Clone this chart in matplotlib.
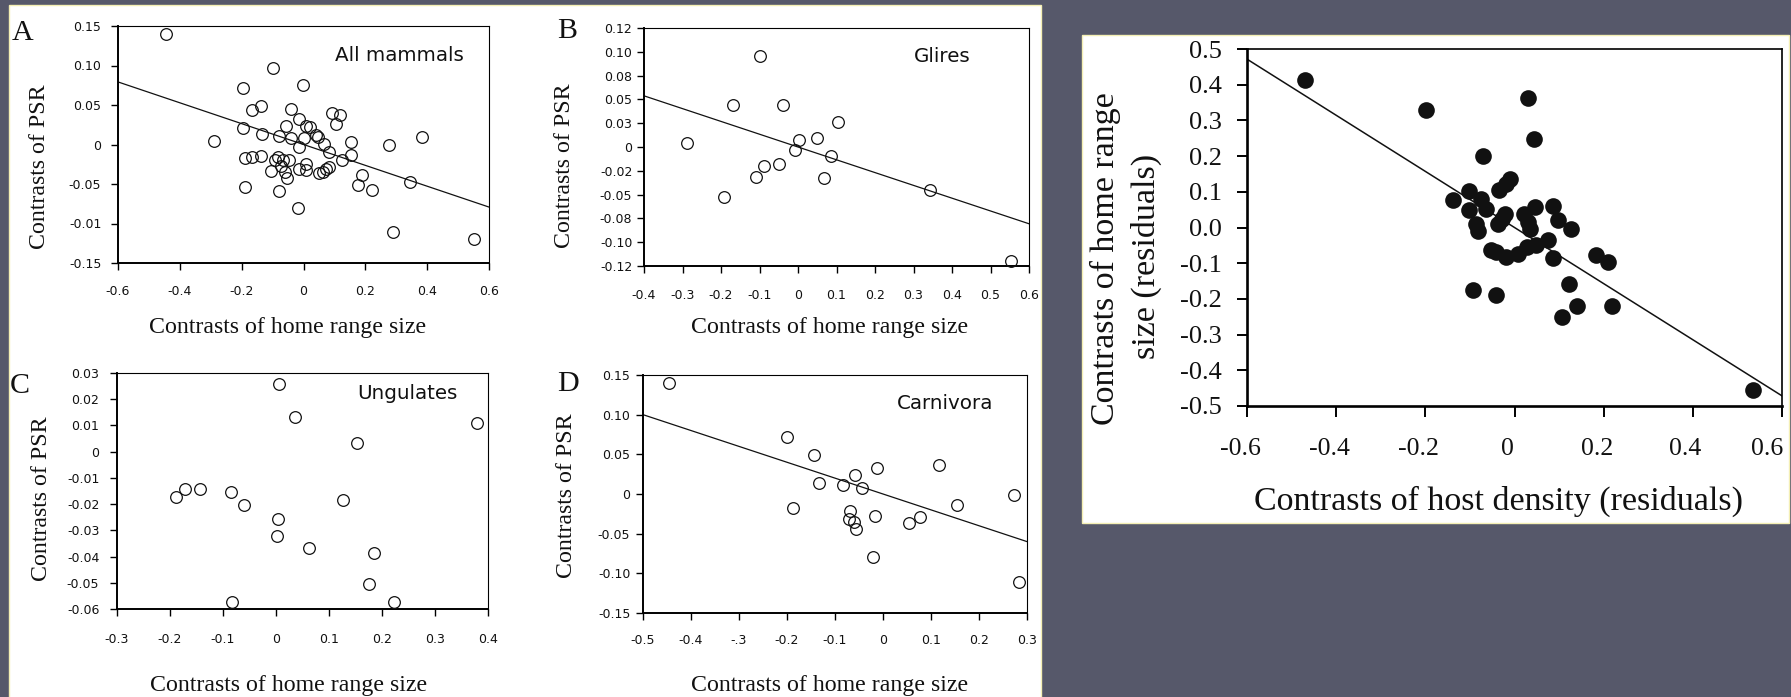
import matplotlib
matplotlib.use("Agg")
import matplotlib.pyplot as plt
from matplotlib.patches import Rectangle
from matplotlib.transforms import ScaledTranslation
import numpy as np

W, H, DPI = 1791, 697, 100
BG = "#56586a"
EDGE = "#f4efb4"
SANS = "DejaVu Sans"
SERIF = "Liberation Serif"

# ---------------- A: all mammals ----------------
a_x = [-0.445, -0.100, -0.002, -0.195, -0.167, -0.137, -0.040, -0.013, -0.057, 0.009,
       0.022, 0.092, 0.117, 0.106, -0.195, -0.288, -0.133, -0.078, -0.040, 0.000,
       0.041, 0.046, 0.065, -0.013, 0.084, 0.155, 0.155, 0.275, 0.383, -0.189,
       -0.165, -0.136, -0.084, -0.092, -0.065, -0.047, -0.072, -0.059, -0.052, -0.106,
       -0.013, 0.008, 0.008, 0.049, 0.063, 0.072, 0.081, 0.126, 0.189, 0.176,
       0.221, 0.343, -0.189, -0.078, -0.018, 0.289, 0.552]
a_y = [0.140, 0.0965, 0.075, 0.072, 0.044, 0.049, 0.045, 0.032, 0.024, 0.024,
       0.022, 0.040, 0.037, 0.026, 0.0215, 0.005, 0.0135, 0.011, 0.008, 0.008,
       0.012, 0.009, 0.001, -0.003, -0.009, 0.003, -0.0135, -0.001, 0.0097, -0.0177,
       -0.016, -0.015, -0.016, -0.020, -0.020, -0.020, -0.027, -0.035, -0.0425, -0.034,
       -0.031, -0.025, -0.032, -0.036, -0.035, -0.031, -0.029, -0.020, -0.038, -0.051,
       -0.057, -0.047, -0.0535, -0.059, -0.080, -0.111, -0.119]
a_fit = (-0.132, 0.0)
a_xticks = [-0.6, -0.4, -0.2, 0.0, 0.2, 0.4, 0.6]
a_xlabels = ["-0.6", "-0.4", "-0.2", "0", "0.2", "0.4", "0.6"]
a_yticks = [0.15, 0.10, 0.05, 0.0, -0.05, -0.10, -0.15]
a_ylabels = ["0.15", "0.10", "0.05", "0", "-0.05", "-0.01", "-0.15"]

# ---------------- B: Glires ----------------
b_x = [-0.100, -0.168, -0.039, 0.104, -0.289, 0.003, 0.049, -0.009, 0.085, -0.089,
       -0.050, -0.110, 0.067, -0.191, 0.343, 0.552]
b_y = [0.0918, 0.042, 0.042, 0.025, 0.004, 0.0067, 0.009, -0.003, -0.009, -0.019,
       -0.0175, -0.0306, -0.031, -0.0508, -0.0437, -0.1153]
b_fit = (-0.129, 0.0)
b_xticks = [-0.4, -0.3, -0.2, -0.1, 0.0, 0.1, 0.2, 0.3, 0.4, 0.5, 0.6]
b_xlabels = ["-0.4", "-0.3", "-0.2", "-0.1", "0", "0.1", "0.2", "0.3", "0.4", "0.5", "0.6"]
b_yticks = list(np.linspace(0.12, -0.12, 11))
b_ylabels = ["0.12", "0.10", "0.08", "0.05", "0.03", "0", "-0.02", "-0.05", "-0.08", "-0.10", "-0.12"]

# ---------------- C: Ungulates ----------------
c_x = [0.006, 0.035, 0.379, 0.152, -0.188, -0.171, -0.143, -0.084, -0.061, 0.126,
       0.004, 0.0025, 0.062, 0.185, 0.175, -0.083, 0.222]
c_y = [0.0259, 0.0134, 0.0109, 0.0034, -0.0174, -0.0142, -0.0141, -0.0155, -0.0204, -0.0186,
       -0.0255, -0.0323, -0.0368, -0.0385, -0.0504, -0.0574, -0.0574]
c_xticks = [-0.3, -0.2, -0.1, 0.0, 0.1, 0.2, 0.3, 0.4]
c_xlabels = ["-0.3", "-0.2", "-0.1", "0", "0.1", "0.2", "0.3", "0.4"]
c_yticks = [0.03, 0.02, 0.01, 0.0, -0.01, -0.02, -0.03, -0.04, -0.05, -0.06]
c_ylabels = ["0.03", "0.02", "0.01", "0", "-0.01", "-0.02", "-0.03", "-0.04", "-0.05", "-0.06"]

# ---------------- D: Carnivora ----------------
d_x = [-0.446, -0.199, -0.143, -0.059, -0.0125, 0.117, -0.134, -0.084, -0.043, 0.273,
       0.155, -0.187, -0.068, -0.070, -0.061, -0.056, -0.016, 0.077, 0.054, -0.021, 0.284]
d_y = [0.140, 0.0714, 0.0487, 0.024, 0.0324, 0.0366, 0.0139, 0.0109, 0.008, -0.0013,
       -0.0134, -0.0176, -0.0218, -0.0315, -0.0357, -0.0441, -0.0277, -0.0294, -0.0366, -0.0798, -0.1105]
d_fit = (-0.2, 0.0)
d_xticks = [-0.5, -0.4, -0.3, -0.2, -0.1, 0.0, 0.1, 0.2, 0.3]
d_xlabels = ["-0.5", "-0.4", "-.3", "-0.2", "-0.1", "0", "0.1", "0.2", "0.3"]
d_yticks = [0.15, 0.10, 0.05, 0.0, -0.05, -0.10, -0.15]
d_ylabels = ["0.15", "0.10", "0.05", "0", "-0.05", "-0.10", "-0.15"]

# ---------------- Host density vs home range ----------------
r_x = [-0.469, -0.198, 0.030, 0.043, -0.071, -0.010, -0.020, -0.035, -0.102, -0.138,
       -0.075, -0.064, -0.101, -0.086, -0.082, -0.022, -0.037, -0.028, 0.022, 0.047,
       0.034, 0.030, 0.086, 0.097, 0.127, 0.075, 0.049, 0.027, 0.007, -0.019,
       -0.041, -0.052, 0.086, 0.183, 0.209, 0.123, -0.093, -0.041, 0.141, 0.218,
       0.107, 0.534]
r_y = [0.413, 0.329, 0.364, 0.247, 0.200, 0.137, 0.122, 0.105, 0.103, 0.078,
       0.081, 0.053, 0.048, 0.011, -0.010, 0.037, 0.011, 0.025, 0.039, 0.058,
       -0.003, 0.015, 0.061, 0.020, -0.005, -0.036, -0.050, -0.054, -0.073, -0.082,
       -0.068, -0.064, -0.085, -0.078, -0.098, -0.157, -0.176, -0.190, -0.219, -0.219,
       -0.252, -0.454]
r_fit = (-0.786, 0.0)
r_xticks = [-0.6, -0.4, -0.2, 0.0, 0.2, 0.4, 0.6]
r_xlabels = ["-0.6", "-0.4", "-0.2", "0", "0.2", "0.4", "0.6"]
r_yticks = [0.5, 0.4, 0.3, 0.2, 0.1, 0.0, -0.1, -0.2, -0.3, -0.4, -0.5]
r_ylabels = ["0.5", "0.4", "0.3", "0.2", "0.1", "0.0", "-0.1", "-0.2", "-0.3", "-0.4", "-0.5"]

fig = plt.figure(figsize=(W / DPI, H / DPI), dpi=DPI, facecolor=BG)


def fx(x):
    return x / W


def fy(y):
    return 1 - y / H


def panel(l, t, r, b):
    fig.patches.append(Rectangle((fx(l), fy(b)), (r - l) / W, (b - t) / H,
                                 transform=fig.transFigure, facecolor="white",
                                 edgecolor=EDGE, lw=1.0, zorder=-5))


def make_ax(l, t, r, b):
    return fig.add_axes([fx(l), fy(b), (r - l) / W, (b - t) / H])


def text(x, y, s, size, family, ha="center", va="baseline", rot=0):
    fig.text(fx(x), fy(y), s, fontsize=size, family=family, ha=ha, va=va,
             rotation=rot, rotation_mode="anchor", color="#111111")


panel(9, 5, 1041, 705)
panel(1082, 35, 1789, 523)


def small_axes(box, xs, ys, xt, xl, yt, yl, fit, xpad, ypad):
    ax = make_ax(*box)
    ax.set_facecolor("none")
    ax.set_xlim(min(xt), max(xt))
    ax.set_ylim(min(yt), max(yt))
    ax.set_xticks(xt)
    ax.set_xticklabels(xl)
    ax.set_yticks(yt)
    ax.set_yticklabels(yl)
    ax.tick_params(axis="x", direction="out", length=4.8, width=1.0, labelsize=9,
                   pad=xpad, labelcolor="#111111")
    ax.tick_params(axis="y", direction="out", length=4.8, width=1.0, labelsize=9,
                   pad=ypad, labelcolor="#111111")
    for s in ["left", "bottom"]:
        ax.spines[s].set_linewidth(1.4)
    for s in ["top", "right"]:
        ax.spines[s].set_linewidth(0.8)
    if fit is not None:
        lx = np.array(ax.get_xlim())
        ax.plot(lx, fit[0] * lx + fit[1], color="#111111", lw=0.9, zorder=2)
    ax.plot(xs, ys, "o", ms=8.4, mfc="none", mec="#111111", mew=0.9,
            clip_on=False, zorder=3)
    return ax


small_axes((118, 26, 489, 263), a_x, a_y, a_xticks, a_xlabels, a_yticks, a_ylabels,
           a_fit, 10.8, 7.2)
small_axes((644, 28, 1029, 266), b_x, b_y, b_xticks, b_xlabels, b_yticks, b_ylabels,
           b_fit, 12.0, 3.6)
small_axes((117, 373, 488, 609), c_x, c_y, c_xticks, c_xlabels, c_yticks, c_ylabels,
           None, 12.6, 7.9)
small_axes((643, 375, 1027, 613), d_x, d_y, d_xticks, d_xlabels, d_yticks, d_ylabels,
           d_fit, 10.0, 4.3)

# panel letters
text(12, 40, "A", 21.6, SERIF, ha="left")
text(557, 38, "B", 21.6, SERIF, ha="left")
text(10, 393, "C", 21.6, SERIF, ha="left")
text(557, 391, "D", 21.6, SERIF, ha="left")

# group names
text(399, 61, "All mammals", 14.3, SANS)
text(942, 62, "Glires", 14.3, SANS)
text(407, 399, "Ungulates", 14.3, SANS)
text(945, 409, "Carnivora", 14.3, SANS)

# axis titles
xlab = "Contrasts of home range size"
ylab = "Contrasts of PSR"
text(288, 333, xlab, 17.2, SERIF)
text(830, 333, xlab, 17.2, SERIF)
text(289, 691, xlab, 17.2, SERIF)
text(830, 691, xlab, 17.2, SERIF)
text(45, 167, ylab, 17.2, SERIF, rot=90)
text(570, 166, ylab, 17.2, SERIF, rot=90)
text(47, 499, ylab, 17.2, SERIF, rot=90)
text(572, 496, ylab, 17.2, SERIF, rot=90)

# ---------------- right-hand plot ----------------
ax = make_ax(1247, 49, 1782, 406)
ax.set_facecolor("none")
ax.set_xlim(-0.6, 0.6)
ax.set_ylim(-0.5, 0.5)
ax.set_xticks(r_xticks)
ax.set_xticklabels(r_xlabels, family=SERIF)
ax.set_yticks(r_yticks)
ax.set_yticklabels(r_ylabels, family=SERIF)
ax.tick_params(axis="x", direction="out", length=7.7, width=1.4, labelsize=18.5,
               pad=15, labelcolor="#111111")
ax.tick_params(axis="y", direction="out", length=7.2, width=1.4, labelsize=19,
               pad=11, labelcolor="#111111")
# x tick labels sit slightly left of their ticks; the last one hugs the panel edge
x_shifts = [-7, -7, -7, -7, -7, -8, -15]
for lab, dx in zip(ax.get_xticklabels(), x_shifts):
    lab.set_transform(lab.get_transform() + ScaledTranslation(dx / DPI, 0, fig.dpi_scale_trans))
for s in ["left", "bottom"]:
    ax.spines[s].set_linewidth(1.9)
for s in ["top", "right"]:
    ax.spines[s].set_linewidth(1.2)
lx = np.array(ax.get_xlim())
ax.plot(lx, r_fit[0] * lx + r_fit[1], color="#111111", lw=1.1, zorder=2)
ax.plot(r_x, r_y, "o", ms=12, mfc="#111111", mec="#111111", mew=0,
        clip_on=False, zorder=3)

text(1498, 510, "Contrasts of host density (residuals)", 24.5, SERIF)
text(1114, 259, "Contrasts of home range", 24.5, SERIF, rot=90)
text(1155, 256, "size (residuals)", 24.5, SERIF, rot=90)

fig.savefig("out.png", dpi=DPI, facecolor=BG)
